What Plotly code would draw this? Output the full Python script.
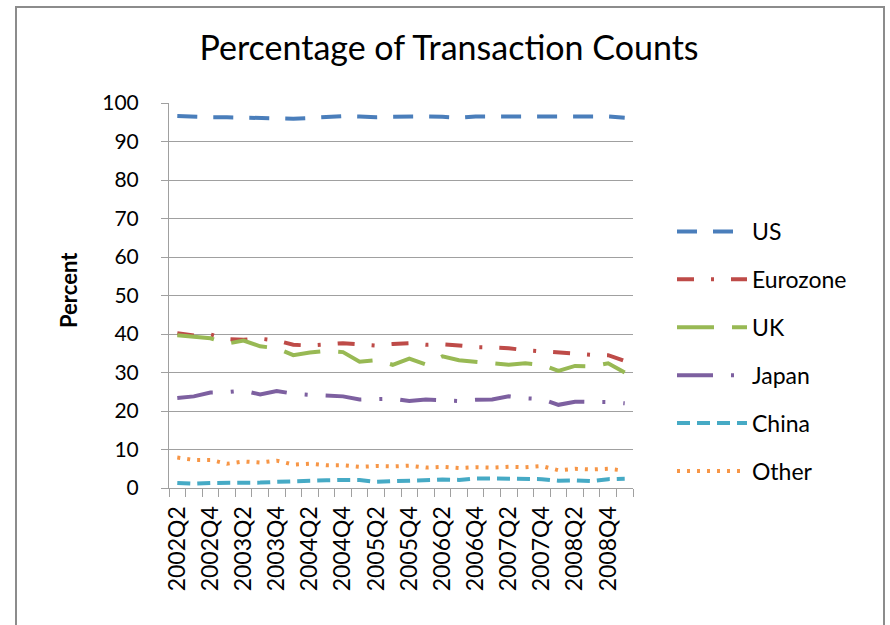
import plotly.graph_objects as go

quarters = []
for y in range(2002, 2010):
    for q in range(1, 5):
        quarters.append(f"{y}Q{q}")
quarters = quarters[1:29]  # 2002Q2 .. 2009Q1

us = [96.6, 96.4, 96.3, 96.3, 96.2, 96.3, 96.0, 95.9, 96.1, 96.3, 96.6, 96.5, 96.3, 96.4,
      96.5, 96.5, 96.4, 96.2, 96.5, 96.5, 96.5, 96.5, 96.4, 96.4, 96.6, 96.6, 96.5, 96.2]
eurozone = [40.2, 39.6, 39.9, 38.7, 38.5, 38.8, 38.3, 37.2, 37.0, 37.4, 37.6, 37.3, 37.0, 37.4,
            37.6, 37.2, 37.3, 37.0, 36.6, 36.5, 36.3, 35.8, 35.5, 35.3, 34.8, 34.6, 34.5, 33.0]
uk = [39.7, 39.2, 38.9, 37.5, 38.3, 36.8, 36.3, 34.5, 35.2, 35.6, 35.3, 32.8, 33.2, 32.0,
      33.6, 32.1, 34.2, 33.2, 32.8, 32.2, 32.0, 32.4, 32.0, 30.4, 31.7, 31.6, 32.4, 30.0]
japan = [23.4, 23.8, 24.8, 24.9, 25.3, 24.3, 25.2, 24.5, 24.2, 24.1, 23.8, 23.0, 23.0, 23.2,
         22.6, 23.0, 22.8, 22.6, 22.9, 23.0, 23.8, 23.3, 23.1, 21.6, 22.4, 22.4, 22.3, 22.0]
china = [1.3, 1.1, 1.3, 1.3, 1.5, 1.4, 1.6, 1.8, 1.8, 2.0, 2.1, 2.1, 1.6, 1.8,
         1.9, 2.0, 2.2, 2.1, 2.5, 2.5, 2.4, 2.3, 2.3, 1.9, 2.0, 1.8, 2.3, 2.4]
other = [7.9, 7.3, 7.3, 6.3, 6.9, 6.6, 7.1, 6.1, 6.3, 5.9, 5.9, 5.5, 5.7, 5.6,
         5.8, 5.3, 5.5, 5.2, 5.4, 5.3, 5.5, 5.4, 5.7, 4.6, 5.0, 4.8, 5.0, 4.5]

series = [
    ("US", us, "#4A7EBB", "20px,16px"),
    ("Eurozone", eurozone, "#BE4B48", "17px,17px,3px,17px"),
    ("UK", uk, "#98B954", "37px,18px"),
    ("Japan", japan, "#7D60A0", "36px,18px,3px,18px"),
    ("China", china, "#46AAC5", "13px,7px"),
    ("Other", other, "#F79646", "3px,7px"),
]

FONT = "Lato, 'Open Sans', sans-serif"

fig = go.Figure()
for i, (name, vals, color, dash) in enumerate(series):
    fig.add_trace(go.Scatter(
        x=quarters, y=vals, name=name, mode="lines", legendgroup=f"g{i}",
        line=dict(color=color, width=4, dash=dash),
    ))

ticktext = [q if i % 2 == 0 else "" for i, q in enumerate(quarters)]

L, R, T, B = 169, 633, 103, 488
W, H = 890, 625

def px(xp):
    return (xp - L) / (R - L)

def py(yp):
    return (B - yp) / (B - T)

fig.update_layout(
    width=W, height=H,
    margin=dict(l=L, r=W - R, t=T, b=H - B, autoexpand=False),
    paper_bgcolor="white", plot_bgcolor="white",
    font=dict(family=FONT, color="black"),
    title=dict(text="Percentage of Transaction Counts", x=px(449), xanchor="center", xref="paper",
               y=1 - 48 / H, yanchor="middle", font=dict(size=34, family=FONT)),
    showlegend=True,
    legend=dict(x=px(672), xanchor="left", y=py(210), yanchor="top",
                font=dict(size=23, family=FONT), tracegroupgap=15,
                itemwidth=70, bgcolor="rgba(0,0,0,0)"),
    xaxis=dict(
        type="category", tickmode="array", tickvals=quarters, ticktext=ticktext,
        tickson="boundaries", ticks="outside", ticklen=8, tickcolor="#A0A0A0",
        tickangle=-90, tickfont=dict(size=23, family=FONT), ticklabelstandoff=8,
        showline=True, linecolor="#A0A0A0", linewidth=1, showgrid=False,
        range=[-0.5, len(quarters) - 0.5],
    ),
    yaxis=dict(
        range=[0, 100], dtick=10, tickmode="linear", tick0=0,
        ticks="outside", ticklen=7, tickcolor="#A0A0A0",
        showline=True, linecolor="#A0A0A0", linewidth=1,
        showgrid=True, gridcolor="#A0A0A0", gridwidth=1,
        tickfont=dict(size=21, family=FONT), ticklabelstandoff=18,
        zeroline=False,
    ),
    annotations=[dict(text="<b>Percent</b>", xref="paper", yref="paper",
                      x=px(68), y=py(290), xanchor="center", yanchor="middle",
                      textangle=-90, showarrow=False, font=dict(size=22, family=FONT))],
    shapes=[dict(type="rect", xref="paper", yref="paper",
                 x0=px(16), x1=px(884), y0=py(660), y1=py(7),
                 line=dict(color="#8C8C8C", width=2), fillcolor="rgba(0,0,0,0)", layer="below")],
)

fig.write_html("out.html", config={"displayModeBar": False},
               post_script="document.body.style.margin='0';document.body.style.overflow='hidden';")
